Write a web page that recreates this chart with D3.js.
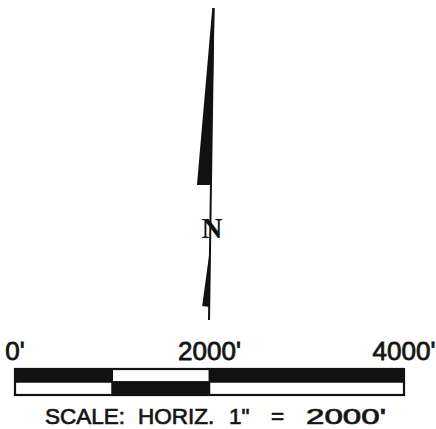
<!DOCTYPE html>
<html><head><meta charset="utf-8">
<script src="https://cdn.jsdelivr.net/npm/d3@7/dist/d3.min.js"></script>
<style>html,body{margin:0;padding:0;background:#fff;}svg{display:block;}</style>
</head><body>
<svg id="c" width="436" height="429"></svg>
<script>
// Scale bar data (feet)
const segmentBreaks = [0, 1000, 2000, 4000];
const topRowFill = ["#111", "#fff", "#111"];
const bottomRowFill = ["#fff", "#111", "#fff"];
const tickValues = [0, 2000, 4000];
const tickLabels = ["0'", "2000'", "4000'"];
const captionWords = ["SCALE:", "HORIZ.", "1\"", "=", "2000'"];
const captionX = [45, 138, 229, 271, 306];
const captionW = [null, null, null, null, 80];
// North arrow geometry (x offset from axis, y along axis)
const arrowUpper = [[-1.2, 8], [1, 8], [0, 185], [-14, 185]];
const arrowLower = [[0, 248], [0, 307], [-7, 306]];
const arrowAxis = [[0, 8], [0, 320]];

const svg = d3.select("#c");
const x = d3.scaleLinear().domain([0, 4000]).range([15, 404]);
const yTop = 369, yMid = 382, yBot = 395;

const segs = d3.range(segmentBreaks.length - 1).map(i => ({a: segmentBreaks[i], b: segmentBreaks[i + 1], i}));
svg.append("g").selectAll("rect").data(segs).join("rect")
  .attr("x", d => x(d.a)).attr("y", yTop).attr("width", d => x(d.b) - x(d.a)).attr("height", yMid - yTop)
  .attr("fill", d => topRowFill[d.i]).attr("stroke", "#111").attr("stroke-width", 1.5);
svg.append("g").selectAll("rect").data(segs).join("rect")
  .attr("x", d => x(d.a)).attr("y", yMid).attr("width", d => x(d.b) - x(d.a)).attr("height", yBot - yMid)
  .attr("fill", d => bottomRowFill[d.i]).attr("stroke", "#111").attr("stroke-width", 1.5);
svg.append("rect").attr("x", x(0)).attr("y", yTop).attr("width", x(4000) - x(0)).attr("height", yBot - yTop)
  .attr("fill", "none").attr("stroke", "#111").attr("stroke-width", 2.2);

svg.append("g").selectAll("text").data(tickValues).join("text")
  .attr("x", d => x(d)).attr("y", 360).attr("text-anchor", "middle")
  .attr("font-family", "Liberation Sans, Arial, sans-serif").attr("font-size", 26)
  .attr("fill", "#151515").attr("stroke", "#151515").attr("stroke-width", 0.8)
  .text((d, i) => tickLabels[i]);

const cap = svg.append("text").attr("y", 424)
  .attr("font-family", "Liberation Sans, Arial, sans-serif").attr("font-size", 22.5)
  .attr("fill", "#151515").attr("stroke", "#151515").attr("stroke-width", 0.7);
cap.selectAll("tspan").data(captionWords).join("tspan")
  .attr("x", (d, i) => captionX[i])
  .each(function (d, i) {
    if (captionW[i]) d3.select(this).attr("textLength", captionW[i]).attr("lengthAdjust", "spacingAndGlyphs");
  })
  .text(d => d);

const axisX = d3.scaleLinear().domain([8, 320]).range([213.5, 209]);
const pt = p => [axisX(p[1]) + p[0], p[1]];
const line = d3.line();
svg.append("path").attr("d", line(arrowAxis.map(pt))).attr("stroke", "#111").attr("stroke-width", 2).attr("fill", "none");
svg.append("path").attr("d", line(arrowUpper.map(pt)) + "Z").attr("fill", "#111");
svg.append("path").attr("d", line(arrowLower.map(pt)) + "Z").attr("fill", "#111");
svg.append("text").attr("x", 212).attr("y", 238).attr("text-anchor", "middle")
  .attr("font-family", "Liberation Serif, Times New Roman, serif").attr("font-weight", "bold")
  .attr("font-size", 29).attr("fill", "#111").text("N");
</script>
</body></html>
